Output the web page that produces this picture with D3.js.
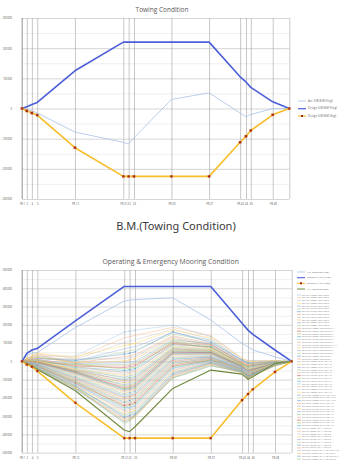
<!DOCTYPE html>
<html>
<head>
<meta charset="utf-8">
<script src="https://cdn.jsdelivr.net/npm/d3@7/dist/d3.min.js"></script>
<style>
  html, body { margin: 0; padding: 0; background: #fff; }
  svg { display: block; font-family: "Open Sans", "Noto Sans", sans-serif; }
</style>
</head>
<body>
<svg id="chart" width="349" height="465"></svg>
<script>
// stations along the hull (same for both charts)
const stations = [0, 1.8, 3.7, 5.7, 19.8, 37.9, 39.9, 41.9, 55.9, 70.0, 81.6, 83.8, 85.6, 93.8, 100];
const stationLabels = ['FR-1', '2', '4', '5', 'FR-12', 'FR-21', '22', '23', 'FR-30', 'FR-37', 'FR-42', '44', '45', 'FR-48', ''];

// Towing condition
const towTicks = [300000, 200000, 100000, 0, -100000, -200000, -300000];
const towActHog = [0, -3000, -8000, -15000, -78000, -112000, -118000, -97000, 30000, 52000, -15000, -27000, -20000, 0, 0];
const towDesignHog = [0, 6000, 13000, 20000, 125000, 220000, 220000, 220000, 220000, 220000, 105000, 88000, 70000, 22000, 0];
const towDesignSag = [0, -8000, -15000, -22000, -130000, -225000, -225000, -225000, -225000, -225000, -112000, -92000, -73000, -21000, 0];

// Operating & emergency mooring condition
const moorTicks = [500000, 400000, 300000, 200000, 100000, 0, -100000, -200000, -300000, -400000, -500000];
const moorActHog = [0, 30000, 45000, 48000, 185000, 330000, 335000, 338000, 348000, 226000, 98000, 80000, 62000, 25000, 0];
const moorDesignHog = [0, 44000, 62000, 71000, 222000, 410000, 410000, 410000, 410000, 410000, 208000, 171000, 148000, 62000, 0];
const moorDesignSag = [0, -18000, -30000, -53000, -227000, -420000, -420000, -420000, -420000, -420000, -212000, -179000, -153000, -58000, 0];
const moorActSag = [0, -12000, -25000, -45000, -161000, -376000, -385000, -358000, -148000, -48000, -70000, -98000, -84000, -11000, 0];

// individual load cases, values in 1000 units
const caseValues = [
  [0, 12, 22, 28, 28, 160, 165, 170, 198, 135, 12, 2, 5, 3, 0],
  [0, 15, 30, 40, 18, 128, 135, 142, 186, 140, 18, 4, 2, 5, 0],
  [0, 8, 16, 22, 10, 104, 110, 118, 176, 122, 6, -6, -3, 1, 0],
  [0, 18, 34, 44, 24, 86, 92, 98, 170, 128, 15, -2, 0, 4, 0],
  [0, 6, 12, 18, 2, 68, 76, 80, 158, 116, 4, -10, -8, -1, 0],
  [0, 10, 20, 26, -4, 52, 58, 64, 150, 110, -2, -14, -10, 0, 0],
  [0, 4, 10, 14, 6, 40, 44, 52, 162, 104, 8, -8, -12, -2, 0],
  [0, 14, 26, 36, -8, 26, 30, 36, 140, 98, -6, -18, -14, -3, 0],
  [0, 5, 11, 16, 12, 14, 20, 26, 132, 92, 2, -12, -6, 2, 0],
  [0, 9, 18, 24, -10, 2, 8, 14, 125, 88, -8, -20, -15, -4, 0],
  [0, 3, 6, 8, -12, -8, -4, 0, 118, 96, -10, -22, -18, -4, 0],
  [0, -2, -3, -5, -18, -18, -14, -10, 112, 84, -12, -26, -20, -5, 0],
  [0, 6, 10, 12, -22, -26, -22, -16, 104, 90, -4, -18, -22, -6, 0],
  [0, 0, 2, 4, -26, -34, -30, -24, 98, 78, -14, -30, -24, -7, 0],
  [0, -4, -6, -8, -15, -42, -38, -32, 108, 72, -16, -28, -26, -5, 0],
  [0, 2, 4, 6, -32, -50, -46, -40, 92, 80, -18, -34, -28, -8, 0],
  [0, -3, -5, -7, -36, -58, -52, -46, 86, 66, -20, -36, -30, -6, 0],
  [0, 5, 8, 10, -28, -64, -60, -54, 94, 74, -9, -26, -32, -9, 0],
  [0, -1, -2, -4, -40, -72, -66, -60, 78, 62, -22, -40, -34, -7, 0],
  [0, 1, 3, 2, -44, -78, -74, -68, 82, 70, -24, -38, -36, -10, 0],
  [0, -5, -8, -10, -48, -86, -80, -74, 70, 58, -26, -44, -38, -8, 0],
  [0, 4, 6, 8, -38, -92, -88, -82, 74, 64, -15, -34, -40, -11, 0],
  [0, -2, -4, -6, -52, -100, -94, -88, 64, 54, -28, -46, -42, -9, 0],
  [0, 0, 0, -2, -46, -106, -102, -96, 68, 60, -20, -42, -44, -12, 0],
  [0, -6, -9, -12, -56, -114, -108, -100, 58, 50, -30, -50, -45, -10, 0],
  [0, 2, 2, 0, -50, -120, -116, -108, 62, 56, -22, -48, -38, -11, 0],
  [0, -3, -6, -9, -60, -128, -122, -114, 52, 46, -32, -52, -46, -9, 0],
  [0, -1, -4, -6, -54, -134, -130, -122, 56, 52, -25, -55, -48, -12, 0],
  [0, -4, -7, -11, -64, -140, -134, -126, 46, 42, -34, -56, -50, -10, 0],
  [0, 1, -1, -3, -58, -146, -140, -132, 50, 48, -28, -58, -44, -13, 0],
  [0, -5, -10, -14, -68, -150, -146, -138, 40, 38, -36, -60, -52, -11, 0],
  [0, -2, -5, -8, -62, -154, -150, -142, 44, 44, -30, -54, -48, -14, 0],
  [0, -6, -11, -16, -72, -158, -152, -146, 36, 34, -38, -62, -54, -12, 0],
  [0, 0, -3, -5, -66, -162, -156, -150, 38, 40, -32, -57, -50, -15, 0],
  [0, -4, -9, -13, -76, -166, -160, -154, 30, 30, -40, -64, -56, -13, 0],
  [0, -7, -13, -18, -80, -172, -166, -158, 24, 26, -42, -66, -55, -14, 0],
  [0, -5, -11, -17, -84, -180, -172, -164, 20, 28, -36, -62, -58, -16, 0],
  [0, -8, -15, -21, -88, -186, -180, -170, 14, 22, -44, -68, -60, -15, 0],
  [0, -6, -12, -19, -92, -194, -186, -178, 10, 24, -40, -70, -57, -17, 0],
  [0, -9, -16, -24, -96, -200, -194, -184, 4, 18, -46, -72, -62, -16, 0],
  [0, -7, -14, -22, -100, -208, -200, -190, 0, 20, -42, -74, -64, -18, 0],
  [0, -10, -18, -26, -104, -214, -208, -198, -6, 14, -48, -76, -60, -17, 0],
  [0, -8, -16, -25, -108, -222, -214, -204, -10, 16, -44, -78, -66, -19, 0],
  [0, -11, -20, -28, -112, -228, -222, -212, -16, 10, -50, -80, -68, -18, 0],
  [0, -9, -18, -27, -116, -236, -228, -218, -20, 12, -46, -76, -70, -20, 0],
  [0, -12, -22, -30, -120, -242, -236, -226, -26, 6, -52, -82, -66, -19, 0],
  [0, -10, -19, -29, -110, -250, -242, -232, -30, 8, -48, -84, -72, -16, 0],
  [0, -13, -24, -33, -124, -256, -250, -240, -36, 2, -54, -80, -74, -20, 0],
  [0, -11, -21, -31, -128, -264, -256, -246, -40, 4, -50, -86, -70, -18, 0],
  [0, -14, -26, -35, -132, -270, -264, -254, -46, -2, -56, -88, -76, -21, 0],
  [0, -12, -23, -33, -122, -278, -270, -260, -50, 0, -52, -84, -72, -19, 0],
  [0, -15, -28, -38, -136, -284, -278, -268, -56, -6, -58, -90, -78, -22, 0],
  [0, -13, -25, -36, -140, -292, -284, -274, -60, -4, -54, -86, -74, -20, 0],
  [0, -16, -30, -40, -144, -298, -292, -282, -66, -10, -60, -88, -76, -23, 0],
  [0, -14, -27, -38, -134, -306, -298, -288, -70, -8, -56, -84, -72, -21, 0],
  [0, -17, -32, -42, -148, -312, -306, -296, -76, -14, -62, -90, -78, -24, 0],
  [0, -15, -29, -40, -150, -320, -312, -302, -80, -12, -58, -86, -75, -22, 0],
  [0, -18, -34, -44, -146, -326, -318, -308, -86, -18, -64, -92, -80, -25, 0],
  [0, -16, -31, -42, -152, -332, -322, -296, -90, -22, -60, -88, -77, -23, 0],
  [0, -12, -24, -36, -138, -340, -330, -290, -92, -26, -54, -84, -70, -20, 0]
];

const caseNames = [
  'OP INT HD000 Hs6.5 Tp9.5', 'OP INT HD030 Hs6.5 Tp9.5', 'OP INT HD060 Hs6.5 Tp9.5', 'OP INT HD090 Hs6.5 Tp9.5',
  'OP INT HD120 Hs6.5 Tp9.5', 'OP INT HD150 Hs6.5 Tp9.5', 'OP INT HD180 Hs6.5 Tp9.5', 'OP INT HD210 Hs6.5 Tp9.5',
  'OP INT HD240 Hs6.5 Tp9.5', 'OP INT HD270 Hs6.5 Tp9.5', 'OP INT HD300 Hs6.5 Tp9.5', 'OP INT HD330 Hs6.5 Tp9.5',
  'OP DMG HD000 Hs6.5 Tp9.5 L1', 'OP DMG HD030 Hs6.5 Tp9.5 L1', 'OP DMG HD060 Hs6.5 Tp9.5 L1', 'OP DMG HD090 Hs6.5 Tp9.5 L1',
  'OP DMG HD120 Hs6.5 Tp9.5 L1', 'OP DMG HD150 Hs6.5 Tp9.5 L1', 'OP DMG HD180 Hs6.5 Tp9.5 L1 (1)', 'OP DMG HD210 Hs6.5 Tp9.5 L1',
  'OP DMG HD240 Hs6.5 Tp9.5 L1', 'OP DMG HD270 Hs6.5 Tp9.5 L1', 'OP DMG HD300 Hs6.5 Tp9.5', 'OP DMG HD330 Hs6.5 Tp9.5',
  'EM INT HD000 Hs12.4 Tp14.2', 'EM INT HD030 Hs12.4 Tp14.2', 'EM INT HD060 Hs12.4 Tp14.2', 'EM INT HD090 Hs12.4 Tp14.2',
  'EM INT HD120 Hs12.4 Tp14.2', 'EM INT HD150 Hs12.4 Tp14.2', 'EM INT HD180 Hs12.4 Tp14.2', 'EM INT HD210 Hs12.4 Tp14.2',
  'EM INT HD240 Hs12.4 Tp14.2', 'EM INT HD270 Hs12.4 Tp14.2', 'EM INT HD300 Hs12.4 Tp14.2', 'EM INT HD330 Hs12.4 Tp14.2',
  'EM DMG HD000 Hs12.4 Tp14.2 L1', 'EM DMG HD030 Hs12.4 Tp14.2 L1', 'EM DMG HD060 Hs12.4 Tp14.2 L1', 'EM DMG HD090 Hs12.4 Tp14.2',
  'EM DMG HD120 Hs12.4 Tp14.2', 'EM DMG HD150 Hs12.4 Tp14.2', 'EM DMG HD180 Hs12.4 Tp14.2', 'EM DMG HD210 Hs12.4 Tp14.2',
  'EM DMG HD240 Hs12.4 Tp14.2', 'EM DMG HD270 Hs12.4 Tp14.2', 'EM DMG HD300 Hs12.4 Tp14.2', 'EM DMG HD330 Hs12.4 Tp14.2',
  'TR INT HD000 Hs14.1 Tp15.0', 'TR INT HD030 Hs14.1 Tp15.0', 'TR INT HD060 Hs14.1 Tp15.0', 'TR INT HD090 Hs14.1 Tp15.0',
  'TR INT HD120 Hs14.1 Tp15.0', 'TR INT HD150 Hs14.1 Tp15.0', 'TR INT HD180 Hs14.1 Tp15.0', 'TR INT HD210 Hs14.1 Tp15.0',
  'TR DMG HD240 Hs14.1 Tp15.0 L1 (2)', 'TR DMG HD270 Hs14.1 Tp15.0 L1', 'TR DMG HD300 Hs14.1 Tp15.0 L2 (1)', 'TR DMG HD330 Hs14.1 Tp15.0 L2'
];

const casePalette = ['#9dc3e6', '#f4b183', '#c9c9c9', '#ffd966', '#8faadc', '#a9d18e', '#5b9bd5', '#ed9d71',
  '#b0b0b0', '#f2c14e', '#7f9fd6', '#93c47d', '#e59b9b', '#c0504d', '#9bbb59', '#4bacc6'];

const svg = d3.select('#chart');
svg.append('rect').attr('width', 349).attr('height', 465).attr('fill', '#fff');

function drawFrame(cfg) {
  const x = d3.scaleLinear().domain([0, 100]).range([cfg.left, cfg.right]);
  const y = d3.scaleLinear().domain([cfg.ticks[cfg.ticks.length - 1], cfg.ticks[0]]).range([cfg.bottom, cfg.top]);
  const g = svg.append('g');

  // minor horizontal grid (half steps)
  const step = cfg.ticks[0] - cfg.ticks[1];
  const minor = cfg.ticks.slice(1).map((t) => t + step / 2);
  g.append('g')
    .attr('transform', `translate(${cfg.left},0)`)
    .call(d3.axisLeft(y).tickValues(minor).tickSize(-(cfg.right - cfg.left)).tickFormat(''))
    .call((a) => a.select('.domain').remove())
    .selectAll('line').attr('stroke', '#e4e4e4').attr('stroke-width', 0.6);

  g.append('g')
    .attr('transform', `translate(${cfg.left},0)`)
    .call(d3.axisLeft(y).tickValues(cfg.ticks).tickSize(-(cfg.right - cfg.left)).tickFormat(''))
    .call((a) => a.select('.domain').remove())
    .selectAll('line').attr('stroke', '#c4c4c4').attr('stroke-width', 0.7);

  // vertical station lines
  g.append('g')
    .attr('transform', `translate(0,${cfg.bottom})`)
    .call(d3.axisBottom(x).tickValues(stations).tickSize(-(cfg.bottom - cfg.top)).tickFormat(''))
    .call((a) => a.select('.domain').remove())
    .selectAll('line').attr('stroke', '#a2a2a2').attr('stroke-width', 0.6);

  // y labels
  g.append('g')
    .attr('transform', `translate(${cfg.left},0)`)
    .call(d3.axisLeft(y).tickValues(cfg.ticks).tickSize(0).tickPadding(10).tickFormat(d3.format('d')))
    .call((a) => a.select('.domain').remove())
    .selectAll('text').attr('font-size', 2.7).attr('fill', '#555').attr('font-family', '"Open Sans", sans-serif');

  // x labels
  g.append('g')
    .attr('transform', `translate(0,${cfg.bottom})`)
    .call(d3.axisBottom(x).tickValues(stations).tickSize(0).tickPadding(4)
      .tickFormat((d, i) => stationLabels[i]))
    .call((a) => a.select('.domain').remove())
    .selectAll('text').attr('font-size', 2.7).attr('fill', '#555').attr('font-family', '"Open Sans", sans-serif');

  g.append('line')
    .attr('x1', cfg.left).attr('x2', cfg.left).attr('y1', cfg.top).attr('y2', cfg.bottom)
    .attr('stroke', '#8a8a8a').attr('stroke-width', 0.6);

  svg.append('text')
    .attr('x', cfg.titleX).attr('y', cfg.titleY)
    .attr('text-anchor', 'middle').attr('dominant-baseline', 'middle')
    .attr('font-size', cfg.titleSize).attr('fill', '#595959')
    .text(cfg.title);

  return { x, y };
}

function drawLine(sc, values, color, width, opacity) {
  const line = d3.line().x((d, i) => sc.x(stations[i])).y((d) => sc.y(d));
  svg.append('path')
    .datum(values)
    .attr('d', line)
    .attr('fill', 'none')
    .attr('stroke', color)
    .attr('stroke-width', width)
    .attr('stroke-opacity', opacity)
    .attr('stroke-linejoin', 'round');
}

function drawSquares(sc, values, size) {
  svg.append('g').selectAll('rect')
    .data(values)
    .enter()
    .append('rect')
    .attr('x', (d, i) => sc.x(stations[i]) - size / 2)
    .attr('y', (d) => sc.y(d) - size / 2)
    .attr('width', size)
    .attr('height', size)
    .attr('fill', '#a3271d')
    .attr('stroke', '#d9822b')
    .attr('stroke-width', 0.3);
}

function legendEntry(x, y, color, width, label, fontSize, marker) {
  svg.append('line')
    .attr('x1', x).attr('x2', x + 8).attr('y1', y).attr('y2', y)
    .attr('stroke', color).attr('stroke-width', width);
  if (marker) {
    svg.append('rect').attr('x', x + 3).attr('y', y - 1).attr('width', 2).attr('height', 2).attr('fill', '#a3271d');
  }
  svg.append('text')
    .attr('x', x + 10).attr('y', y).attr('dominant-baseline', 'middle')
    .attr('font-size', fontSize).attr('fill', '#666')
    .text(label);
}

// ---- Towing Condition ----
const tow = drawFrame({
  left: 22, right: 289.3, top: 18, bottom: 199, ticks: towTicks,
  title: 'Towing Condition', titleX: 162, titleY: 10, titleSize: 6.5
});
drawLine(tow, towActHog, '#a7c3e6', 0.8, 1);
drawLine(tow, towDesignHog, '#4c5ed8', 1.6, 1);
drawLine(tow, towDesignSag, '#f7bd2a', 1.6, 1);
drawSquares(tow, towDesignSag, 2.4);

legendEntry(298, 101, '#a7c3e6', 0.8, 'Act. S.W.B.M (Hog)', 2.9, false);
legendEntry(298, 108.7, '#4c5ed8', 1.2, 'Design S.W.B.M (Hog)', 2.9, false);
legendEntry(298, 116, '#f7bd2a', 1.2, 'Design S.W.B.M (Sag)', 2.9, true);

// ---- caption between charts ----
svg.append('text')
  .attr('x', 176).attr('y', 227)
  .attr('text-anchor', 'middle').attr('dominant-baseline', 'middle')
  .attr('font-size', 11).attr('fill', '#3a3a3a')
  .attr('font-family', '"Noto Sans", sans-serif')
  .text('B.M.(Towing  Condition)');

// ---- Operating & Emergency Mooring Condition ----
const moor = drawFrame({
  left: 22, right: 291.7, top: 270, bottom: 452.7, ticks: moorTicks,
  title: 'Operating & Emergency Mooring  Condition', titleX: 170.7, titleY: 261.7, titleSize: 6.8
});

caseValues.forEach((vals, k) => {
  const color = casePalette[k % casePalette.length];
  const scaled = vals.map((v) => v * 1000);
  drawLine(moor, scaled, color, 0.55, 0.8);
  if (k % 3 === 0) {
    svg.append('g').selectAll('circle')
      .data(scaled)
      .enter()
      .append('circle')
      .attr('cx', (d, i) => moor.x(stations[i]))
      .attr('cy', (d) => moor.y(d))
      .attr('r', 0.7)
      .attr('fill', color);
  }
});

drawLine(moor, moorActHog, '#a7c3e6', 0.8, 1);
drawLine(moor, moorActSag, '#6f8a3c', 1.1, 1);
drawLine(moor, moorDesignHog, '#4c5ed8', 1.6, 1);
drawLine(moor, moorDesignSag, '#f7bd2a', 1.6, 1);
drawSquares(moor, moorDesignSag, 2.2);

legendEntry(297, 272, '#a7c3e6', 0.8, 'Act. Condition (Hog)', 2.4, false);
legendEntry(297, 277.7, '#4c5ed8', 1.1, 'Design S.W.B.M (Hog)', 2.4, false);
legendEntry(297, 283.3, '#f7bd2a', 1.1, 'Design S.W.B.M (Sag)', 2.4, true);
legendEntry(297, 289, '#6f8a3c', 1, 'Act. Condition (Sag)', 2.4, false);

caseNames.forEach((name, k) => {
  const yy = 295 + k * 2.78;
  svg.append('line')
    .attr('x1', 297).attr('x2', 301).attr('y1', yy).attr('y2', yy)
    .attr('stroke', casePalette[k % casePalette.length]).attr('stroke-width', 0.6);
  svg.append('text')
    .attr('x', 302).attr('y', yy).attr('dominant-baseline', 'middle')
    .attr('font-size', 2.2).attr('fill', '#777')
    .text(name);
});
</script>
</body>
</html>
